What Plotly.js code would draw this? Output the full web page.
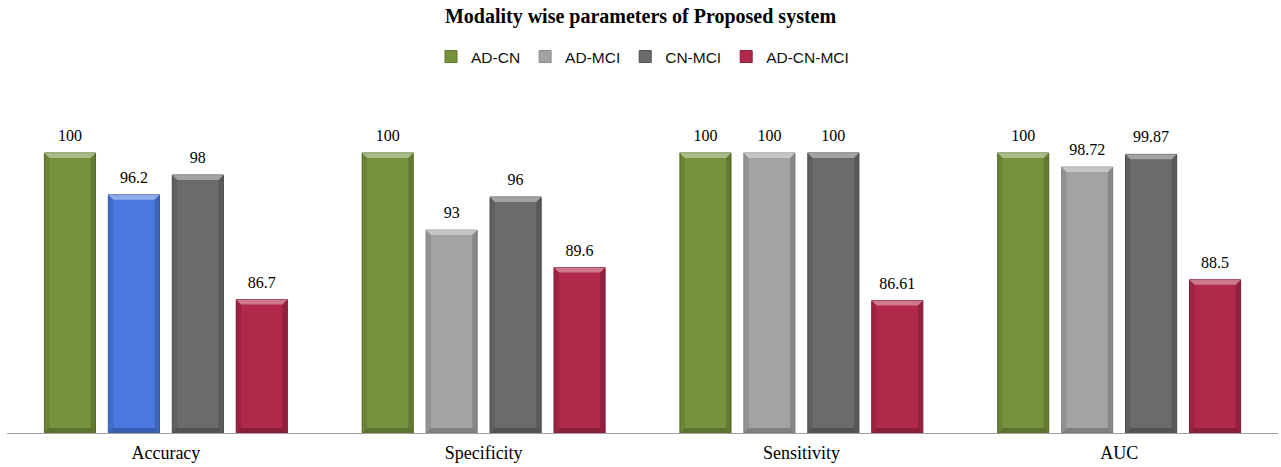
<!DOCTYPE html>
<html>
<head>
<meta charset="utf-8">
<script src="https://cdn.plot.ly/plotly-3.0.1.min.js"></script>
<style>
  html, body { margin: 0; padding: 0; background: #fff; }
  #chart { width: 1281px; height: 467px; }
</style>
</head>
<body>
<div id="chart"></div>
<script>
// Evaluation metrics per classification task
const metrics = ["Accuracy", "Specificity", "Sensitivity", "AUC"];
const adCn    = [100, 100, 100, 100];
const adMci   = [96.2, 93, 100, 98.72];
const cnMci   = [98, 96, 100, 99.87];
const adCnMci = [86.7, 89.6, 86.61, 88.5];

const seriesNames = ["AD-CN", "AD-MCI", "CN-MCI", "AD-CN-MCI"];
const seriesValues = [adCn, adMci, cnMci, adCnMci];
const seriesColors = ["#76923c", "#a3a3a3", "#6b6b6b", "#b0284a"];
const seriesEdges  = ["#5a7229", "#8a8a8a", "#505050", "#8c1d39"];
// The accuracy bar of AD-MCI is highlighted in blue
const highlightColor = "#4a78e0";
const highlightEdge = "#3a5fb8";

const serif = "Liberation Serif, Times New Roman, serif";

const traces = seriesNames.map((name, i) => {
  let xs = metrics.slice();
  let ys = seriesValues[i].slice();
  let fill = seriesColors[i], edge = seriesEdges[i];
  if (name === "AD-MCI") {
    // list the highlighted point last so the legend swatch keeps the series colour
    xs = xs.slice(1).concat(xs.slice(0, 1));
    ys = ys.slice(1).concat(ys.slice(0, 1));
    fill = xs.map(c => c === "Accuracy" ? highlightColor : seriesColors[i]);
    edge = xs.map(c => c === "Accuracy" ? highlightEdge : seriesEdges[i]);
  }
  const font = { family: serif, size: 16, color: "#000" };
  return {
    type: "bar",
    name: name,
    x: xs,
    y: ys,
    text: ys.map(v => String(v)),
    textposition: "outside",
    textfont: font,
    outsidetextfont: font,
    cliponaxis: false,
    marker: { color: fill, line: { color: edge, width: 1 } },
    hoverinfo: "x+y+name"
  };
});

const layout = {
  width: 1281,
  height: 467,
  margin: { l: 7, r: 3, t: 100, b: 34 },
  paper_bgcolor: "#fff",
  plot_bgcolor: "#fff",
  barmode: "group",
  bargap: 0.195,
  bargroupgap: 0.2,
  showlegend: true,
  title: {
    text: "<b>Modality wise parameters of Proposed system</b>",
    font: { family: serif, size: 20, color: "#000" },
    x: 0.5, xanchor: "center",
    y: 0.966, yanchor: "middle", yref: "container"
  },
  legend: {
    orientation: "h",
    x: 0.5, xanchor: "center",
    y: 0.878, yanchor: "middle", yref: "container",
    font: { family: "Liberation Sans, Arial, sans-serif", size: 15.5, color: "#111" },
    itemwidth: 30,
    traceorder: "normal"
  },
  xaxis: {
    type: "category",
    categoryorder: "array",
    categoryarray: metrics,
    showline: true,
    linecolor: "#a0a0a0",
    linewidth: 1,
    showgrid: false,
    zeroline: false,
    ticks: "",
    ticklabelstandoff: 3,
    tickfont: { family: serif, size: 18, color: "#000" }
  },
  yaxis: {
    visible: false,
    range: [74.6, 104.8],
    showgrid: false,
    zeroline: false
  }
};

const SVGNS = "http://www.w3.org/2000/svg";

// Bevelled edges on each bar, built from the bar's own drawn box,
// limited to the plotting area
function addBevel(path, plotH) {
  const b = path.getBBox();
  if (!b.width || !b.height) return;
  const x0 = b.x, x1 = b.x + b.width;
  const y0 = Math.max(b.y, 0), y1 = Math.min(b.y + b.height, plotH);
  if (y1 - y0 < 12) return;
  const d = 5;
  const faces = [
    [[x0, y0], [x1, y0], [x1 - d, y0 + d], [x0 + d, y0 + d], "#ffffff", 0.38],
    [[x0, y0], [x0 + d, y0 + d], [x0 + d, y1 - d], [x0, y1], "#000000", 0.10],
    [[x1, y0], [x1 - d, y0 + d], [x1 - d, y1 - d], [x1, y1], "#000000", 0.16],
    [[x0, y1], [x0 + d, y1 - d], [x1 - d, y1 - d], [x1, y1], "#000000", 0.22]
  ];
  faces.forEach(f => {
    const poly = document.createElementNS(SVGNS, "polygon");
    poly.setAttribute("points", f.slice(0, 4).map(p => p.join(",")).join(" "));
    poly.setAttribute("fill", f[4]);
    poly.setAttribute("fill-opacity", f[5]);
    path.parentNode.insertBefore(poly, path.nextSibling);
  });
}

Plotly.newPlot("chart", traces, layout, { displayModeBar: false, staticPlot: true }).then(gd => {
  const plotH = gd._fullLayout._size.h;
  gd.querySelectorAll(".barlayer g.point > path").forEach(p => addBevel(p, plotH));
  // lift the value labels a little further above their bars
  gd.querySelectorAll("text.bartext").forEach(t => {
    const tr = t.getAttribute("transform") || "";
    t.setAttribute("transform", "translate(0,-6) " + tr);
  });
});
</script>
</body>
</html>
